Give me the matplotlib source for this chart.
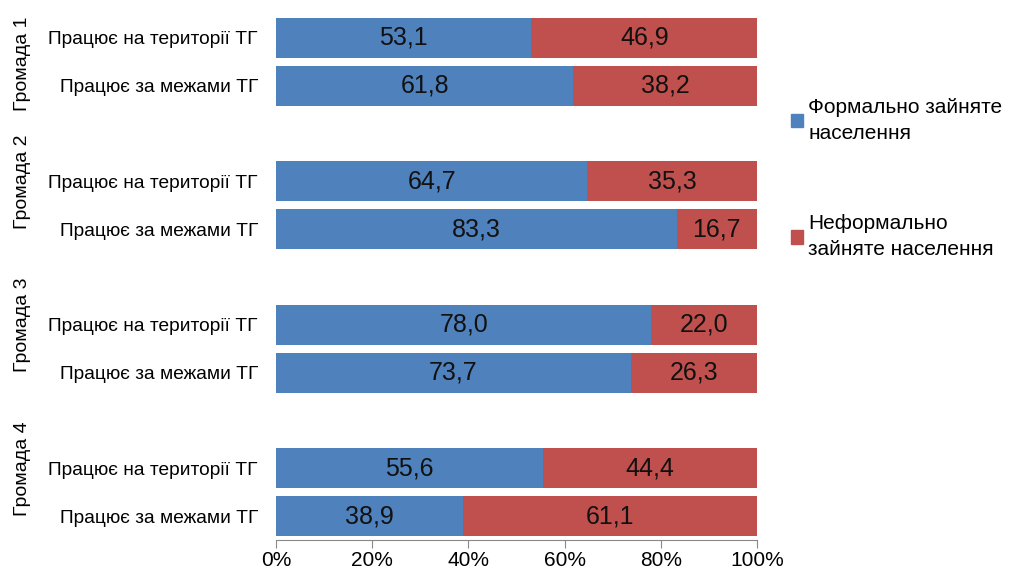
import numpy as np
import matplotlib.pyplot as plt
from matplotlib.patches import Patch

plt.rcParams['font.family'] = ['Liberation Sans', 'DejaVu Sans']

# ---- DATA ----
groups = ["Громада 1", "Громада 2", "Громада 3", "Громада 4"]
rows = ["Працює на території ТГ", "Працює за межами ТГ"]
formal = [53.1, 61.8, 64.7, 83.3, 78.0, 73.7, 55.6, 38.9]
informal = [46.9, 38.2, 35.3, 16.7, 22.0, 26.3, 44.4, 61.1]
series_names = ["Формально зайняте\nнаселення", "Неформально\nзайняте населення"]
xticks = [0, 20, 40, 60, 80, 100]
# --------------

BLUE = "#4F81BD"
RED = "#C0504D"

# bar positions: two bars per group, one empty slot between groups
y = []
for g in range(len(groups)):
    y += [g * 3, g * 3 + 1]
y = np.array(y)

fig = plt.figure(figsize=(10.16, 5.70), dpi=100)
ax = fig.add_axes([0.2717, 0.0526, 0.4734, 0.9228])

b1 = ax.barh(y, formal, height=0.84, color=BLUE)
b2 = ax.barh(y, informal, left=formal, height=0.84, color=RED)

fmt = lambda v: f"{v:.1f}".replace(".", ",")
ax.bar_label(b1, labels=[fmt(v) for v in formal], label_type="center", fontsize=18, color="#111111")
ax.bar_label(b2, labels=[fmt(v) for v in informal], label_type="center", fontsize=18, color="#111111")

ax.set_yticks(y)
ax.set_yticklabels(rows * len(groups), fontsize=13.8)
ax.tick_params(axis="y", length=0, pad=13)
ax.set_ylim(10.5, -0.5)

ax.set_xlim(0, 100)
ax.set_xticks(xticks)
ax.set_xticklabels([f"{t}%" for t in xticks], fontsize=15)
ax.tick_params(axis="x", length=6, color="#888888", direction="out", pad=2)

for s in ["top", "right", "left"]:
    ax.spines[s].set_visible(False)
ax.spines["bottom"].set_color("#888888")

# group labels, rotated, centred on the empty slot + two bars (first one pushed down to fit)
label_y = [0.55, 3.0, 6.0, 9.0]
for name, yc in zip(groups, label_y):
    ax.annotate(name, xy=(0, yc), xycoords=("figure fraction", "data"),
                xytext=(23, 0), textcoords="offset pixels", rotation=90,
                ha="center", va="center", fontsize=14)

handles = [Patch(color=BLUE), Patch(color=RED)]
leg = fig.legend(handles, series_names, loc="upper left", bbox_to_anchor=(0.770, 0.843),
                 frameon=False, fontsize=15, handlelength=0.6, handleheight=0.6,
                 handletextpad=0.25, labelspacing=3.45, borderaxespad=0)
for t in leg.get_texts():
    t.set_linespacing(1.45)

fig.savefig("out.png", dpi=100)
